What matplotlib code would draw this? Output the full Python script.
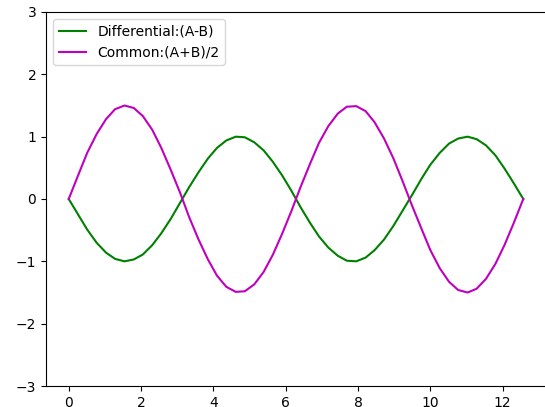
import matplotlib
matplotlib.use("Agg")
import matplotlib.pyplot as plt

# sample positions (0 .. ~4*pi)
x = [0.00, 0.26, 0.51, 0.77, 1.03, 1.28, 1.54, 1.80, 2.05, 2.31,
     2.56, 2.82, 3.08, 3.33, 3.59, 3.85, 4.10, 4.36, 4.62, 4.87,
     5.13, 5.39, 5.64, 5.90, 6.16, 6.41, 6.67, 6.92, 7.18, 7.44,
     7.69, 7.95, 8.21, 8.46, 8.72, 8.98, 9.23, 9.49, 9.75, 10.00,
     10.26, 10.52, 10.77, 11.03, 11.28, 11.54, 11.80, 12.05, 12.31, 12.57]

differential = [0.00, -0.25, -0.49, -0.70, -0.86, -0.96, -1.00, -0.97, -0.89, -0.74,
                -0.55, -0.32, -0.06, 0.19, 0.43, 0.65, 0.82, 0.94, 1.00, 0.99,
                0.91, 0.78, 0.60, 0.38, 0.13, -0.13, -0.38, -0.60, -0.78, -0.91,
                -0.99, -1.00, -0.94, -0.82, -0.65, -0.43, -0.19, 0.06, 0.32, 0.55,
                0.74, 0.89, 0.97, 1.00, 0.96, 0.86, 0.70, 0.49, 0.25, 0.00]

common = [0.00, 0.38, 0.74, 1.04, 1.28, 1.44, 1.50, 1.46, 1.33, 1.11,
          0.82, 0.47, 0.10, -0.29, -0.65, -0.97, -1.23, -1.41, -1.49, -1.48,
          -1.37, -1.17, -0.90, -0.56, -0.19, 0.19, 0.56, 0.90, 1.17, 1.37,
          1.48, 1.49, 1.41, 1.23, 0.97, 0.65, 0.29, -0.10, -0.47, -0.82,
          -1.11, -1.33, -1.46, -1.50, -1.44, -1.28, -1.04, -0.74, -0.38, 0.00]

fig = plt.figure(figsize=(5.45, 4.07), dpi=100)
# axes run slightly past the right edge, like the cropped original
ax = fig.add_axes([46 / 545, 21 / 407, 500 / 545, 374 / 407])

ax.plot(x, differential, color='g', label='Differential:(A-B)')
ax.plot(x, common, color='m', label='Common:(A+B)/2')

ax.set_ylim(-3, 3)
ax.spines['right'].set_visible(False)  # falls outside the crop in the original
ax.legend(loc='upper left')

fig.savefig('out.png', dpi=100)
